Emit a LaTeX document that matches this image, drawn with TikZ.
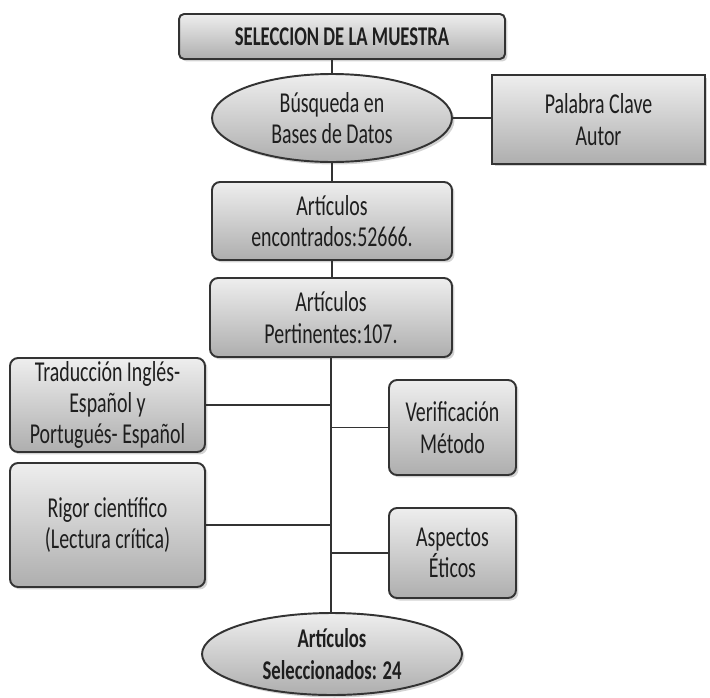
\documentclass[tikz,border=0pt]{standalone}
\usepackage{fontspec}
\setmainfont{Carlito}[FakeStretch=0.69]
\usepackage{tikz}
\usetikzlibrary{shapes.geometric,shadows}

\definecolor{cajaarriba}{HTML}{EEEEEE}
\definecolor{cajaabajo}{HTML}{AEAEAE}
\definecolor{borde}{HTML}{333333}
\definecolor{texto}{HTML}{1E1E1E}

\tikzset{
	base/.style={draw=borde, line width=1.1pt, top color=cajaarriba, bottom color=cajaabajo,
		align=center, inner sep=0pt, text=texto,
		font=\fontsize{16.4}{17.8}\selectfont,
		drop shadow={shadow xshift=0.05cm, shadow yshift=-0.05cm, opacity=0.35}},
	caja/.style={base, shape=rectangle, rounded corners=0.16cm},
	plana/.style={base, shape=rectangle},
	elipse/.style={base, shape=ellipse},
	negrita/.style={font=\fontsize{15.4}{17.8}\selectfont\bfseries},
	conector/.style={draw=borde, line width=0.9pt}
}

\begin{document}
\begin{tikzpicture}[x=0.02cm, y=-0.02cm]
	\useasboundingbox (0,0) rectangle (710,697);

	\node[caja, negrita, rounded corners=0.1cm, minimum width=6.52cm, minimum height=0.9cm] (titulo) at (342, 36.5) {SELECCION DE LA MUESTRA};
	\node[elipse, minimum width=4.8cm, minimum height=1.76cm]  (busqueda)  at (332, 118)   {Búsqueda en\\Bases de Datos};
	\node[plana, minimum width=4.26cm, minimum height=1.78cm]  (palabra)   at (598.5, 119.5) {Palabra Clave\\Autor};
	\node[caja, minimum width=4.8cm, minimum height=1.56cm]    (encontrados) at (332, 221) {Artículos\\encontrados:52666.};
	\node[caja, minimum width=4.84cm, minimum height=1.58cm]   (pertinentes) at (331, 317.5) {Artículos\\Pertinentes:107.};
	\node[caja, minimum width=3.9cm, minimum height=1.88cm]    (traduccion) at (107.5, 405) {Traducción Inglés-\\Español y\\Portugués- Español};
	\node[caja, minimum width=3.9cm, minimum height=2.48cm]    (rigor)     at (107.5, 525) {Rigor científico\\(Lectura crítica)};
	\node[caja, minimum width=2.54cm, minimum height=1.9cm]    (verificacion) at (452.5, 427.5) {Verificación\\Método};
	\node[caja, minimum width=2.54cm, minimum height=1.8cm]    (aspectos)  at (452.5, 553) {Aspectos\\Éticos};
	\node[elipse, negrita, minimum width=5.2cm, minimum height=1.64cm] (seleccionados) at (332, 654) {Artículos\\Seleccionados: 24};

	\draw[conector] (titulo.south -| busqueda.north) -- (busqueda.north);
	\draw[conector] (busqueda.east) -- (busqueda.east -| palabra.west);
	\draw[conector] (busqueda.south) -- (encontrados.north);
	\draw[conector] (encontrados.south) -- (encontrados.south |- pertinentes.north);
	\draw[conector] (pertinentes.south) -- (pertinentes.south |- seleccionados.north);
	\draw[conector] (traduccion.east) -- (traduccion.east -| pertinentes.south);
	\draw[conector] (rigor.east) -- (rigor.east -| pertinentes.south);
	\draw[conector] (verificacion.west -| pertinentes.south) -- (verificacion.west);
	\draw[conector] (aspectos.west -| pertinentes.south) -- (aspectos.west);
\end{tikzpicture}
\end{document}
